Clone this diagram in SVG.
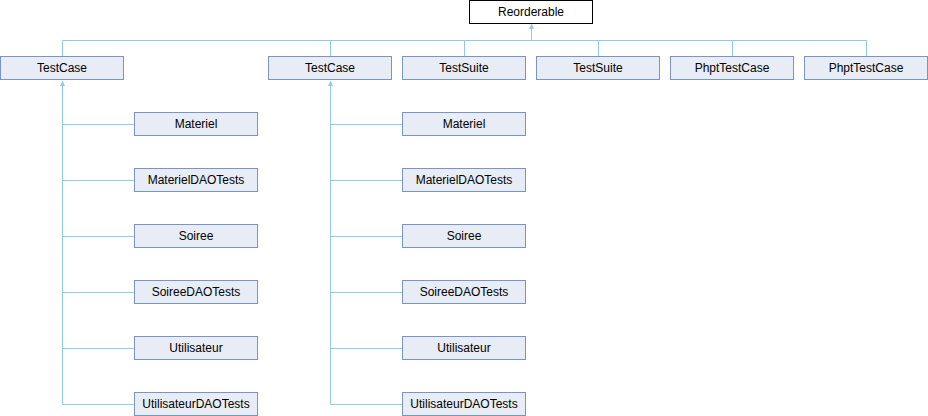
<svg xmlns="http://www.w3.org/2000/svg" width="928" height="416" viewBox="0 0 928 416">
<style>
.n rect{fill:#E8ECF5;stroke:#7A93C9;stroke-width:1}
.r rect{fill:#FFFFFF;stroke:#000000;stroke-width:1}
text{font-family:"Liberation Sans",Arial,sans-serif;font-size:12px;fill:#000;text-anchor:middle}
.c path{fill:none;stroke:#90CAE9;stroke-width:1}
.c polygon{fill:#90CAE9;stroke:none}
</style>
<rect width="928" height="416" fill="#FFFFFF"/>
<g class="c" id="connectors">
<path d="M531.5,29V40.5M62.5,56V40.5H866.5V56M330.5,40.5V56M464.5,40.5V56M598.5,40.5V56M732.5,40.5V56"/>
<polygon points="531.5,23.5 529,29 534,29"/>
<path d="M62.5,86V404.5M62.5,124.5H134M62.5,180.5H134M62.5,236.5H134M62.5,292.5H134M62.5,348.5H134M62.5,404.5H134"/>
<polygon points="62.5,80.5 60,86 65,86"/>
<path d="M330.5,86V404.5M330.5,124.5H402M330.5,180.5H402M330.5,236.5H402M330.5,292.5H402M330.5,348.5H402M330.5,404.5H402"/>
<polygon points="330.5,80.5 328,86 333,86"/>
</g>
<g class="r" id="Reorderable"><rect x="469.5" y="0.5" width="123" height="23"/><text x="531" y="16">Reorderable</text></g>
<g class="n" id="TestCase1"><rect x="0.5" y="56.5" width="123" height="23"/><text x="62" y="72">TestCase</text></g>
<g class="n" id="TestCase2"><rect x="268.5" y="56.5" width="123" height="23"/><text x="330" y="72">TestCase</text></g>
<g class="n" id="TestSuite1"><rect x="402.5" y="56.5" width="123" height="23"/><text x="464" y="72">TestSuite</text></g>
<g class="n" id="TestSuite2"><rect x="536.5" y="56.5" width="123" height="23"/><text x="598" y="72">TestSuite</text></g>
<g class="n" id="PhptTestCase1"><rect x="670.5" y="56.5" width="123" height="23"/><text x="732" y="72">PhptTestCase</text></g>
<g class="n" id="PhptTestCase2"><rect x="804.5" y="56.5" width="123" height="23"/><text x="866" y="72">PhptTestCase</text></g>
<g class="n" id="Materiel1"><rect x="134.5" y="112.5" width="123" height="23"/><text x="196" y="128">Materiel</text></g>
<g class="n" id="MaterielDAOTests1"><rect x="134.5" y="168.5" width="123" height="23"/><text x="196" y="184">MaterielDAOTests</text></g>
<g class="n" id="Soiree1"><rect x="134.5" y="224.5" width="123" height="23"/><text x="196" y="240">Soiree</text></g>
<g class="n" id="SoireeDAOTests1"><rect x="134.5" y="280.5" width="123" height="23"/><text x="196" y="296">SoireeDAOTests</text></g>
<g class="n" id="Utilisateur1"><rect x="134.5" y="336.5" width="123" height="23"/><text x="196" y="352">Utilisateur</text></g>
<g class="n" id="UtilisateurDAOTests1"><rect x="134.5" y="392.5" width="123" height="23"/><text x="196" y="408">UtilisateurDAOTests</text></g>
<g class="n" id="Materiel2"><rect x="402.5" y="112.5" width="123" height="23"/><text x="464" y="128">Materiel</text></g>
<g class="n" id="MaterielDAOTests2"><rect x="402.5" y="168.5" width="123" height="23"/><text x="464" y="184">MaterielDAOTests</text></g>
<g class="n" id="Soiree2"><rect x="402.5" y="224.5" width="123" height="23"/><text x="464" y="240">Soiree</text></g>
<g class="n" id="SoireeDAOTests2"><rect x="402.5" y="280.5" width="123" height="23"/><text x="464" y="296">SoireeDAOTests</text></g>
<g class="n" id="Utilisateur2"><rect x="402.5" y="336.5" width="123" height="23"/><text x="464" y="352">Utilisateur</text></g>
<g class="n" id="UtilisateurDAOTests2"><rect x="402.5" y="392.5" width="123" height="23"/><text x="464" y="408">UtilisateurDAOTests</text></g>
</svg>
